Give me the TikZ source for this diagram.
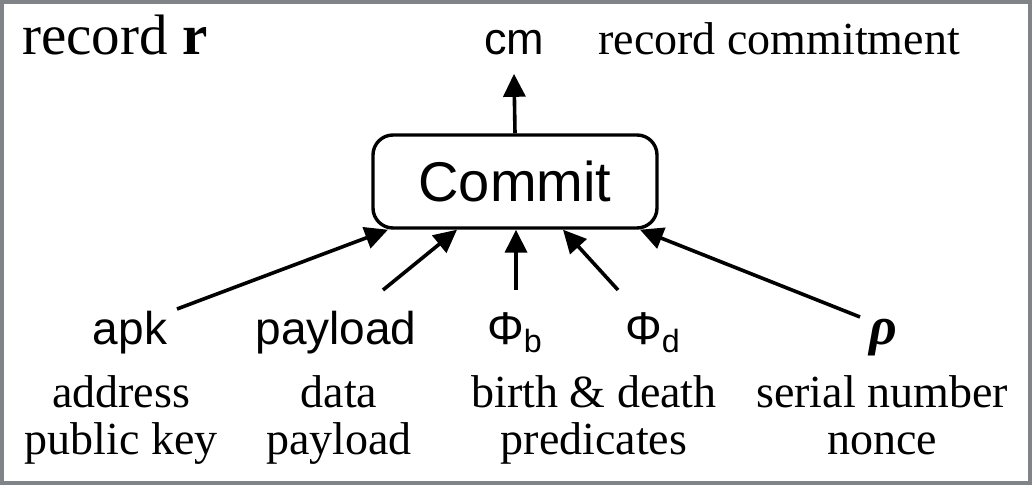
\documentclass[tikz,border=0pt]{standalone}
\usepackage{fontspec}
\setmainfont{Liberation Serif}
\setsansfont{Liberation Sans}
\usetikzlibrary{arrows.meta}
\begin{document}
\begin{tikzpicture}[
        x=0.5pt, y=-0.5pt,
        lbl/.style={font=\fontsize{23}{24}\selectfont, anchor=base, inner sep=0pt},
        var/.style={font=\sffamily\fontsize{23}{24}\selectfont, anchor=base, inner sep=0pt},
        desc/.style={font=\fontsize{23}{24}\selectfont, anchor=base, align=center, inner sep=0pt},
        fn/.style={draw, rounded corners=10pt, line width=1.7pt, minimum width=142pt, minimum height=46.5pt,
                   font=\sffamily\fontsize{28}{30}\selectfont},
        arr/.style={line width=1.8pt, -{Triangle[length=11.5pt,width=11pt]}}
        ]
        \useasboundingbox (0,0) rectangle (1032,485);
        \draw[line width=2pt, draw={rgb,255:red,128;green,131;blue,135}] (2,2) rectangle (1030,483);
        \node (rec) [lbl, anchor=base west, font=\fontsize{28.5}{30}\selectfont] at (22,55) {record \textbf{r}};
        \node (cm) [var, font=\sffamily\fontsize{22.5}{24}\selectfont] at (514,55) {cm};
        \node (cmdesc) [lbl, anchor=base west] at (598,55) {record commitment};
        \node (commit) [fn] at (515,181.5) {Commit};
        \node (apk) [var] at (130,345) {apk};
        \node (pay) [var] at (336,345) {payload};
        \node (phib) [var] at (515,345) {Φ\textsubscript{b}};
        \node (phid) [var] at (653,345) {Φ\textsubscript{d}};
        \node (rho) [var, font=\fontsize{27}{28}\selectfont] at (883,345) {\textbf{\textit{ρ}}};
        \node (apkdesc) [desc] at (121,455) {address\\public key};
        \node (paydesc) [desc] at (339,455) {data\\payload};
        \node (phidesc) [desc] at (594,455) {birth \& death\\predicates};
        \node (rhodesc) [desc] at (882,455) {serial number\\nonce};
        \coordinate (apkt) at (177,309);
        \coordinate (payt) at (383,290);
        \coordinate (phibt) at (516,290);
        \coordinate (phidt) at (618,290);
        \coordinate (rhot) at (860,317);
        \draw[arr] (commit.north) -- ([yshift=-9pt]cm.south);
        \draw[arr] (apkt) -- ([xshift=-63.5pt]commit.south);
        \draw[arr] (payt) -- ([xshift=-29pt]commit.south);
        \draw[arr] (phibt) -- ([xshift=0.5pt]commit.south);
        \draw[arr] (phidt) -- ([xshift=24pt]commit.south);
        \draw[arr] (rhot) -- ([xshift=62.5pt]commit.south);
\end{tikzpicture}
\end{document}
